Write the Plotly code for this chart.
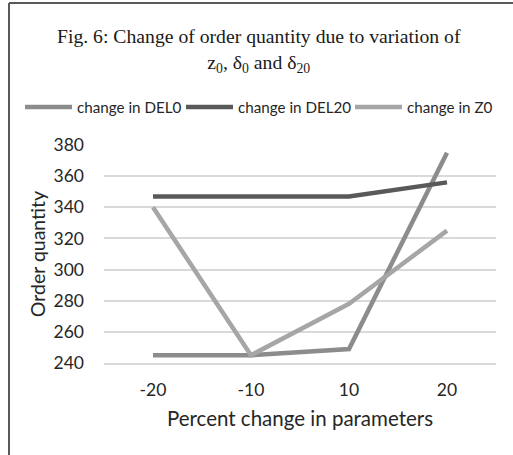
import plotly.graph_objects as go

categories = ["-20", "-10", "10", "20"]
del0 = [245, 245, 249, 375]
del20 = [347, 347, 347, 356]
z0 = [340, 245, 278, 325]
y_ticks = [240, 260, 280, 300, 320, 340, 360, 380]

W, H = 513, 455
L, R, T, B = 104, 17, 145, 92
PW, PH = W - L - R, H - T - B


def px_x(p):
    return (p - L) / PW


def px_y(p):
    return 1 - (p - T) / PH


fig = go.Figure()
fig.add_trace(go.Scatter(x=categories, y=del0, mode="lines", name="change in DEL0",
                         line=dict(color="#8c8c8c", width=4.5), legend="legend"))
fig.add_trace(go.Scatter(x=categories, y=del20, mode="lines", name="change in DEL20",
                         line=dict(color="#595959", width=4.5), legend="legend2"))
fig.add_trace(go.Scatter(x=categories, y=z0, mode="lines", name="change in Z0",
                         line=dict(color="#a6a6a6", width=4.5), legend="legend3"))

leg_font = dict(size=15.2, family="Lato, sans-serif", color="#262626")


def leg(xpix):
    return dict(orientation="h", xref="container", yref="container",
                x=xpix / W, xanchor="left", y=1 - 107 / H, yanchor="middle",
                font=leg_font, itemwidth=47, bgcolor="rgba(0,0,0,0)", borderwidth=0)


fig.update_layout(
    width=W, height=H,
    margin=dict(l=L, r=R, t=T, b=B, autoexpand=False),
    paper_bgcolor="white", plot_bgcolor="white",
    font=dict(family="Lato, sans-serif", color="#262626"),
    showlegend=True,
    legend=leg(20), legend2=leg(181), legend3=leg(350),
    annotations=[dict(
        text="Fig. 6: Change of order quantity due to variation of<br>z<sub>0</sub>, δ<sub>0</sub> and δ<sub>20</sub>",
        xref="paper", yref="paper", x=px_x(259), y=px_y(51),
        xanchor="center", yanchor="middle", showarrow=False, align="center",
        font=dict(family="Liberation Serif, Times New Roman, serif", size=19.7, color="#1a1a1a"))],
    xaxis=dict(type="category", categoryorder="array", categoryarray=categories,
               range=[-0.5, 3.5],
               showgrid=False, zeroline=False, showline=True, linecolor="#d9d9d9", linewidth=1.5,
               ticks="", tickfont=dict(size=17.5), ticklabelstandoff=10,
               title=dict(text="Percent change in parameters", font=dict(size=20.5), standoff=13)),
    yaxis=dict(range=[240, 380], tickvals=y_ticks, showgrid=True, gridcolor="#d9d9d9", gridwidth=1.5,
               zeroline=False, showline=False, ticks="", tickfont=dict(size=17.5), ticklabelstandoff=19,
               title=dict(text="Order quantity", font=dict(size=19.5), standoff=2)),
    shapes=[
        dict(type="line", xref="paper", yref="paper",
             x0=px_x(9), x1=px_x(W), y0=px_y(3), y1=px_y(3),
             line=dict(color="#5a5a5a", width=2)),
        dict(type="line", xref="paper", yref="paper",
             x0=px_x(9), x1=px_x(9), y0=px_y(3), y1=px_y(H),
             line=dict(color="#5a5a5a", width=2)),
    ],
)

fig.write_html("out.html")
